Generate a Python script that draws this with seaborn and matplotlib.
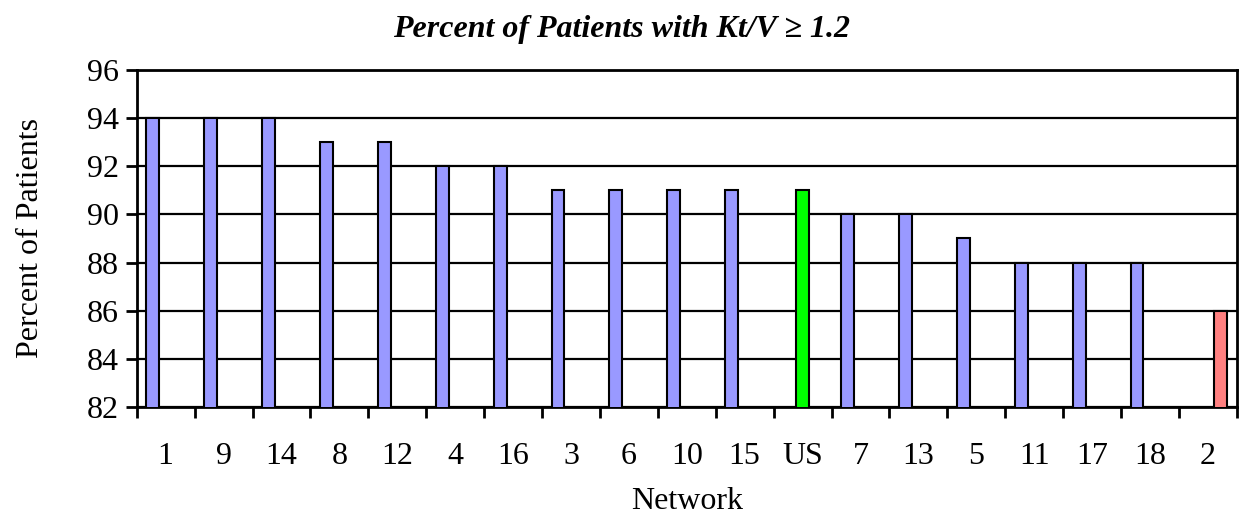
import numpy as np
import pandas as pd
import matplotlib.pyplot as plt
import seaborn as sns

# Dados
networks = ['1', '9', '14', '8', '12', '4', '16', '3', '6', '10', '15', 'US',
            '7', '13', '5', '11', '17', '18', '2']
percent = [94, 94, 94, 93, 93, 92, 92, 91, 91, 91, 91, 91,
           90, 90, 89, 88, 88, 88, 86]
group = ['net'] * 11 + ['us'] + ['net'] * 6 + ['low']

df = pd.DataFrame({'Network': networks, 'Percent': percent, 'Group': group})

sns.set_theme(style='white')
plt.rcParams['font.family'] = ['Liberation Serif', 'DejaVu Serif']
plt.rcParams['text.color'] = 'black'
plt.rcParams['axes.labelcolor'] = 'black'
plt.rcParams['xtick.color'] = 'black'
plt.rcParams['ytick.color'] = 'black'

fig = plt.figure(figsize=(12.43, 5.19), dpi=100)
ax = fig.add_axes([0.110, 0.216, 0.885, 0.649])

sns.barplot(data=df, x='Network', y='Percent', hue='Group',
            order=networks, hue_order=['net', 'us', 'low'],
            palette={'net': '#9999FF', 'us': '#00FF00', 'low': '#FF8080'},
            saturation=1, width=0.67, gap=0, dodge=True,
            edgecolor='black', linewidth=1.5,
            legend=False, ax=ax, zorder=3)

ax.set_ylim(82, 96)
ax.set_yticks(np.arange(82, 97, 2))
ax.set_xlim(-0.5, len(networks) - 0.5)
ax.yaxis.grid(True, color='black', linewidth=1.6, zorder=0)
ax.set_axisbelow(True)

for s in ax.spines.values():
    s.set_color('black')
    s.set_linewidth(2)

ax.set_xticks(np.arange(len(networks)))
ax.set_xticklabels(networks)
ax.set_xticks(np.arange(len(networks) + 1) - 0.5, minor=True)
ax.tick_params(axis='x', which='major', length=0, pad=25, labelsize=23)
ax.tick_params(axis='x', which='minor', length=8, width=2, color='black',
               direction='out', bottom=True)
ax.tick_params(axis='y', length=8, width=2, color='black', direction='out',
               left=True, labelsize=23, pad=5)

ax.set_xlabel('Network', fontsize=23, labelpad=12)
ax.set_ylabel('Percent of Patients', fontsize=23, labelpad=30)
fig.text(0.5, 0.943, 'Percent of Patients with Kt/V \u2265 1.2', ha='center',
         va='center', fontsize=23, fontweight='bold', fontstyle='italic')

plt.savefig('out.png', dpi=100)
